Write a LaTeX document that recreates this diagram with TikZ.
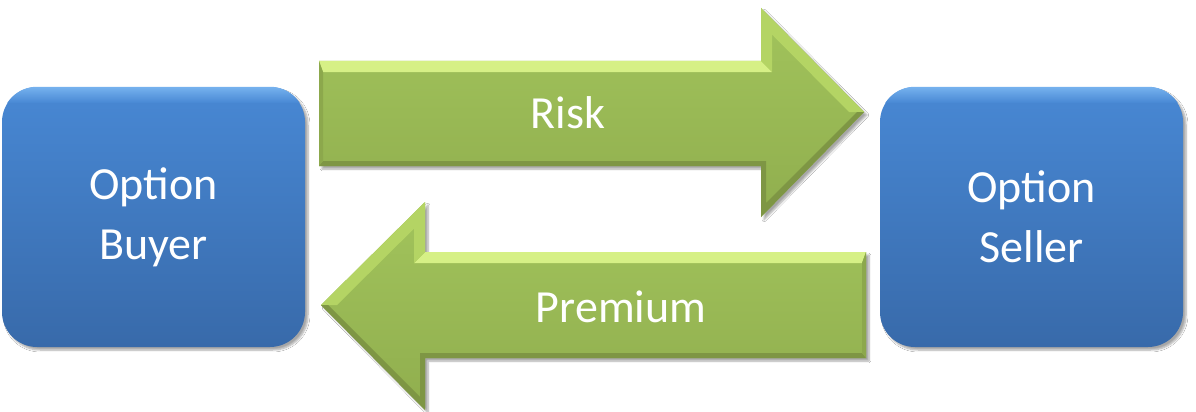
\documentclass[tikz,border=0pt]{standalone}
\usepackage{fontspec}
\setmainfont{Carlito}
\usetikzlibrary{shadows.blur}
\definecolor{boxtop}{RGB}{72,136,212}
\definecolor{boxbot}{RGB}{56,106,170}
\definecolor{boxhi}{RGB}{118,178,238}
\definecolor{grntop}{RGB}{162,196,92}
\definecolor{grnbot}{RGB}{144,174,78}
\definecolor{grnlight}{RGB}{214,240,134}
\definecolor{grnupper}{RGB}{180,212,100}
\definecolor{grndark}{RGB}{126,150,68}
\definecolor{grnend}{RGB}{140,168,76}
\tikzset{
  party/.style={rounded corners=35pt, minimum width=303pt, minimum height=260pt,
    top color=boxtop, bottom color=boxbot, text=white, align=center, inner sep=0pt,
    font=\fontsize{46}{60}\selectfont,
    blur shadow={shadow xshift=3pt, shadow yshift=-3pt, shadow opacity=35, shadow blur steps=6}},
  arrowbody/.style={top color=grntop, bottom color=grnbot,
    blur shadow={shadow xshift=3pt, shadow yshift=-3pt, shadow opacity=35, shadow blur steps=6}},
  arrowlabel/.style={text=white, inner sep=0pt, font=\fontsize{46}{56}\selectfont}
}
\begin{document}
\begin{tikzpicture}[x=1pt,y=-1pt]
\useasboundingbox (0,0) rectangle (1196,412);
\fill[white] (0,0) rectangle (1196,412);

% boxes
\node[party] (buyer) at (153.5,217) {Option\\Buyer};
\node[party] (seller) at (1031.5,217) {Option\\Seller};
\foreach \b in {buyer,seller}{
  \begin{scope}
    \clip[rounded corners=35pt] (\b.south west) rectangle (\b.north east);
    \shade[top color=boxhi, bottom color=boxtop] (\b.north west) rectangle ([yshift=-16pt]\b.north east);
  \end{scope}
}

% Risk arrow (to the right)
\path[arrowbody] (319,61) -- (761,61) -- (761,8) -- (864,112) -- (761,217) -- (761,166) -- (319,166) -- cycle;
\fill[grnlight] (319,61) -- (761,61) -- (772,72) -- (323,72) -- cycle;
\fill[grnupper] (761,8) -- (864,112) -- (849,112) -- (772,34.5) -- (772,72) -- (761,61) -- cycle;
\fill[grndark] (864,112) -- (761,217) -- (761,166) -- (319,166) -- (323,161) -- (766,161) -- (766,203) -- (857,112) -- cycle;
\fill[grnend] (319,61) -- (323,72) -- (323,161) -- (319,166) -- cycle;
\node[arrowlabel] (risk) at (568,113) {Risk};

% Premium arrow (to the left)
\path[arrowbody] (866,252) -- (425,252) -- (425,202) -- (321,305) -- (425,410) -- (425,358) -- (866,358) -- cycle;
\fill[grnlight] (866,252) -- (425,252) -- (414,263) -- (862,263) -- cycle;
\fill[grnupper] (425,202) -- (321,305) -- (337,305) -- (414,228.6) -- (414,263) -- (425,252) -- cycle;
\fill[grndark] (321,305) -- (425,410) -- (425,358) -- (866,358) -- (862,353) -- (420,353) -- (420,397) -- (328,305) -- cycle;
\fill[grnend] (866,252) -- (862,263) -- (862,353) -- (866,358) -- cycle;
\node[arrowlabel] (premium) at (621,307) {Premium};
\end{tikzpicture}
\end{document}
